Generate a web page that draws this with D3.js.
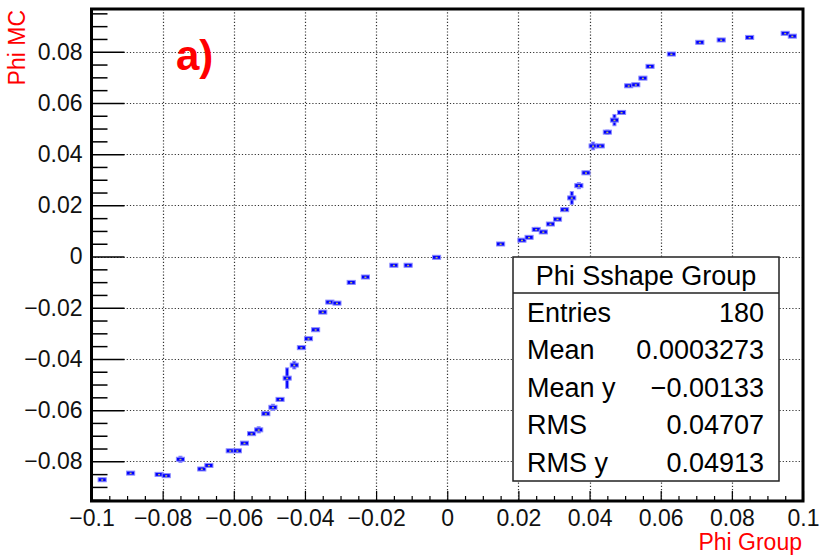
<!DOCTYPE html>
<html>
<head>
<meta charset="utf-8">
<script src="https://cdn.jsdelivr.net/npm/d3@7"></script>
<style>
  html, body { margin: 0; padding: 0; background: #fff; }
  svg { display: block; }
  text { font-family: "Liberation Sans", Arial, Helvetica, sans-serif; }
</style>
</head>
<body>
<svg id="chart" width="821" height="557"></svg>
<script>
// ---- data ----
const xValues = [-0.097, -0.089, -0.081, -0.079, -0.075, -0.069, -0.067, -0.061, -0.059, -0.057,
                 -0.055, -0.053, -0.051, -0.049, -0.047, -0.045, -0.043, -0.041, -0.039, -0.037,
                 -0.035, -0.033, -0.031, -0.027, -0.023, -0.015, -0.011, -0.003,
                 0.015, 0.021, 0.023, 0.025, 0.027, 0.029, 0.031, 0.033, 0.035, 0.037,
                 0.039, 0.041, 0.043, 0.045, 0.047, 0.049, 0.051, 0.053, 0.055, 0.057,
                 0.063, 0.071, 0.077, 0.085, 0.095, 0.097];
const yValues = [-0.0872, -0.0846, -0.0851, -0.0856, -0.0792, -0.0830, -0.0816, -0.0759, -0.0759, -0.0729,
                 -0.0692, -0.0677, -0.0614, -0.0589, -0.0558, -0.0475, -0.0424, -0.0356, -0.0321, -0.0286,
                 -0.0217, -0.0178, -0.0182, -0.0101, -0.0080, -0.0034, -0.0034, -0.0003,
                 0.0049, 0.0064, 0.0075, 0.0106, 0.0096, 0.0127, 0.0146, 0.0183, 0.0229, 0.0277,
                 0.0327, 0.0432, 0.0432, 0.0486, 0.0533, 0.0563, 0.0667, 0.0671, 0.0697, 0.0743,
                 0.0791, 0.0837, 0.0846, 0.0856, 0.0872, 0.0861];
const yErrors = [0, 0, 0, 0, 0.0012, 0, 0, 0, 0, 0,
                 0, 0.0012, 0, 0.0012, 0, 0.004, 0.0015, 0, 0, 0,
                 0, 0, 0, 0, 0, 0, 0, 0,
                 0, 0, 0, 0.0008, 0, 0, 0, 0, 0.0025, 0.0012,
                 0.0006, 0.0015, 0, 0.0008, 0.0022, 0, 0.0005, 0, 0, 0,
                 0, 0, 0, 0, 0, 0];
const binWidth = 0.002;

const xTickValues = [-0.1, -0.08, -0.06, -0.04, -0.02, 0, 0.02, 0.04, 0.06, 0.08, 0.1];
const xTickLabels = ["\u22120.1", "\u22120.08", "\u22120.06", "\u22120.04", "\u22120.02", "0", "0.02", "0.04", "0.06", "0.08", "0.1"];
const yTickValues = [-0.08, -0.06, -0.04, -0.02, 0, 0.02, 0.04, 0.06, 0.08];
const yTickLabels = ["\u22120.08", "\u22120.06", "\u22120.04", "\u22120.02", "0", "0.02", "0.04", "0.06", "0.08"];

const xTitle = "Phi Group";
const yTitle = "Phi MC";
const panelLabel = "a)";
const statsTitle = "Phi Sshape Group";
const statsNames = ["Entries", "Mean", "Mean y", "RMS", "RMS y"];
const statsValues = ["180", "0.0003273", "\u22120.00133", "0.04707", "0.04913"];

// ---- layout ----
const L = 91.5, R = 803, T = 9, B = 501;
const svg = d3.select("#chart");

const x = d3.scaleLinear().domain([-0.1, 0.1]).range([L, R]);
const y = d3.scaleLinear().domain([-0.0955, 0.0967]).range([B, T]);

// grid
const gGrid = svg.append("g");
gGrid.selectAll("line.vg").data(xTickValues.filter(v => Math.abs(v) < 0.099))
  .enter().append("line")
  .attr("x1", d => Math.round(x(d)) + 0.5).attr("x2", d => Math.round(x(d)) + 0.5)
  .attr("y1", T).attr("y2", B)
  .attr("stroke", "#333").attr("stroke-width", 1.2).attr("stroke-dasharray", "1.2,2");
gGrid.selectAll("line.hg").data(yTickValues)
  .enter().append("line")
  .attr("y1", d => Math.round(y(d)) + 0.5).attr("y2", d => Math.round(y(d)) + 0.5)
  .attr("x1", L).attr("x2", R)
  .attr("stroke", "#333").attr("stroke-width", 1.2).attr("stroke-dasharray", "1.2,2");

// axes (ticks drawn inward)
const xMinor = d3.range(-0.1, 0.1001, 0.005).filter(v => Math.abs(Math.round(v * 1000) % 20) !== 0);
const yMinor = d3.range(-0.095, 0.0951, 0.005).filter(v => Math.abs(Math.round(v * 1000) % 20) !== 0);

const xAxisMajor = d3.axisBottom(x).tickValues(xTickValues).tickSize(-10)
  .tickFormat((d, i) => xTickLabels[i]).tickPadding(9);
const gx = svg.append("g").attr("transform", `translate(0,${B})`).call(xAxisMajor);
gx.select(".domain").remove();
gx.selectAll(".tick line").attr("stroke", "#000").attr("stroke-width", 1.2);
gx.selectAll(".tick text").attr("font-size", 23).attr("fill", "#111")
  .attr("font-family", "Liberation Sans, Arial, sans-serif");

const xAxisMinor = d3.axisBottom(x).tickValues(xMinor).tickSize(-5).tickFormat("");
const gxm = svg.append("g").attr("transform", `translate(0,${B})`).call(xAxisMinor);
gxm.select(".domain").remove();
gxm.selectAll(".tick line").attr("stroke", "#000").attr("stroke-width", 1.2);

const yAxisMajor = d3.axisLeft(y).tickValues(yTickValues).tickSize(-33)
  .tickFormat((d, i) => yTickLabels[i]).tickPadding(9);
const gy = svg.append("g").attr("transform", `translate(${L},0)`).call(yAxisMajor);
gy.select(".domain").remove();
gy.selectAll(".tick line").attr("stroke", "#000").attr("stroke-width", 1.5);
gy.selectAll(".tick text").attr("font-size", 23).attr("fill", "#111")
  .attr("font-family", "Liberation Sans, Arial, sans-serif");

const yAxisMinor = d3.axisLeft(y).tickValues(yMinor).tickSize(-16).tickFormat("");
const gym = svg.append("g").attr("transform", `translate(${L},0)`).call(yAxisMinor);
gym.select(".domain").remove();
gym.selectAll(".tick line").attr("stroke", "#000").attr("stroke-width", 1.5);

// frame
svg.append("rect").attr("x", L).attr("y", T).attr("width", R - L).attr("height", B - T)
  .attr("fill", "none").attr("stroke", "#000").attr("stroke-width", 3);

// data points
const pts = xValues.map((v, i) => ({ x: v, y: yValues[i], e: yErrors[i] }));
const gPts = svg.append("g");
const halfW = (x(binWidth) - x(0)) / 2;
gPts.selectAll("rect.err").data(pts.filter(d => d.e > 0)).enter().append("rect")
  .attr("x", d => x(d.x) - 1.5).attr("width", 3)
  .attr("y", d => y(d.y + d.e)).attr("height", d => y(d.y - d.e) - y(d.y + d.e))
  .attr("fill", "#0000ff").attr("stroke", "#8a8aff").attr("stroke-width", 1);
gPts.selectAll("rect.pt").data(pts).enter().append("rect")
  .attr("x", d => x(d.x) - halfW - 0.5).attr("width", 2 * halfW + 1)
  .attr("y", d => y(d.y) - 2).attr("height", 4)
  .attr("fill", "#0000ff").attr("stroke", "#8a8aff").attr("stroke-width", 1);
gPts.selectAll("rect.ctr").data(pts).enter().append("rect")
  .attr("x", d => x(d.x) - 1).attr("width", 2)
  .attr("y", d => y(d.y) - 0.5).attr("height", 1.5)
  .attr("fill", "#b8b860");

// titles
svg.append("text").attr("x", 802).attr("y", 550).attr("text-anchor", "end")
  .attr("font-size", 23).attr("fill", "#ff0000").text(xTitle);
svg.append("text").attr("transform", "translate(25,10) rotate(-90)").attr("text-anchor", "end")
  .attr("font-size", 23).attr("fill", "#ff0000").text(yTitle);

// panel label
svg.append("text").attr("x", 176).attr("y", 70).attr("font-size", 42).attr("font-weight", "bold")
  .attr("fill", "#ff0000").text(panelLabel);

// stats box
const sb = { x: 513, y: 257, w: 266, h: 224, titleH: 36, rowH: 37.5 };
const gS = svg.append("g");
gS.append("rect").attr("x", sb.x).attr("y", sb.y).attr("width", sb.w).attr("height", sb.h)
  .attr("fill", "#fff").attr("stroke", "#222").attr("stroke-width", 1.5);
gS.append("line").attr("x1", sb.x).attr("x2", sb.x + sb.w)
  .attr("y1", sb.y + sb.titleH).attr("y2", sb.y + sb.titleH)
  .attr("stroke", "#222").attr("stroke-width", 1.5);
gS.append("text").attr("x", sb.x + sb.w / 2).attr("y", 285).attr("text-anchor", "middle")
  .attr("font-size", 27).attr("fill", "#000").text(statsTitle);
gS.selectAll("text.sn").data(statsNames).enter().append("text")
  .attr("x", 527).attr("y", (d, i) => 321.7 + i * 37.5)
  .attr("font-size", 27).attr("fill", "#000").text(d => d);
gS.selectAll("text.sv").data(statsValues).enter().append("text")
  .attr("x", 764).attr("y", (d, i) => 321.7 + i * 37.5).attr("text-anchor", "end")
  .attr("font-size", 27).attr("fill", "#000").text(d => d);
</script>
</body>
</html>
